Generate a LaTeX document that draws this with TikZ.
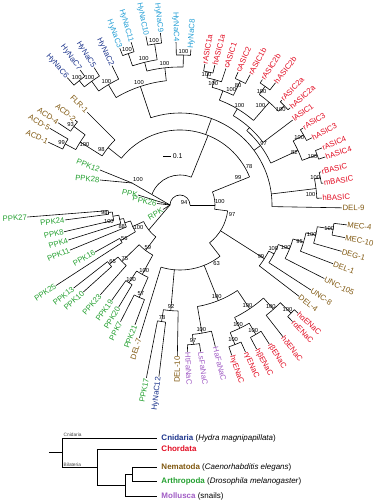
\documentclass[tikz,border=0pt]{standalone}
\usepackage{fontspec}
\setmainfont{Liberation Sans}

\definecolor{cnidark}{RGB}{28,52,140}
\definecolor{cnilight}{RGB}{38,160,214}
\definecolor{chord}{RGB}{226,12,34}
\definecolor{nema}{RGB}{128,88,16}
\definecolor{arth}{RGB}{36,160,48}
\definecolor{moll}{RGB}{160,92,196}

\tikzset{
  branch/.style={line width=0.6pt},
  lbl/.style={font=\fontsize{7.8}{9}\selectfont, inner sep=0.3pt},
  bsl/.style={font=\fontsize{5.8}{6.5}\selectfont, inner sep=0pt},
  legline/.style={line width=1pt},
  leg/.style={font=\fontsize{8}{9}\selectfont, inner sep=0pt},
  cladelbl/.style={font=\fontsize{4.8}{5}\selectfont, text=black!75, inner sep=0.5pt},
}

% arc at radius #1 from angle #2 to #3
\newcommand{\arcr}[3]{\draw[branch] (#2:#1) arc[start angle=#2, end angle=#3, radius=#1];}
% radial line at angle #1 from radius #2 to #3
\newcommand{\radl}[3]{\draw[branch] (#1:#2) -- (#1:#3);}
% leaf: angle, node radius, tip radius, name, text, colour
\newcommand{\leafR}[6]{\draw[branch] (#1:#2) -- (#1:#3) node[lbl, text=#6, rotate=#1, anchor=west] (#4) {#5};}
\newcommand{\leafL}[6]{\draw[branch] (#1:#2) -- (#1:#3) node[lbl, text=#6, rotate=#1+180, anchor=east] (#4) {#5};}
\newcounter{bsn}
\newcommand{\bootv}[3]{\stepcounter{bsn}\node[bsl] (bs\thebsn) at (#1:#2) {#3};}

\begin{document}
\begin{tikzpicture}[x=1bp, y=1bp]
\useasboundingbox (-180,-295) rectangle (199,205);

% centre
\arcr{10}{0}{180}
\bootv{35}{5}{94}
\coordinate (bun) at (180:10);
\coordinate (n1228) at (-48,22);
\draw[branch] (bun) -- (n1228);
\node[bsl] (b1228) at (-42,25) {100};
\draw[branch] (n1228) -- (-80,35) node[lbl, text=arth, rotate=-22, anchor=east] (PPK12) {PPK12};
\draw[branch] (n1228) -- (-80,25) node[lbl, text=arth, rotate=-5, anchor=east] (PPK28) {PPK28};
\draw[branch] (bun) -- (-42,10) node[lbl, text=arth, rotate=-12, anchor=east] (PPK) {PPK};
\draw[branch] (bun) -- (-23,1.5) node[lbl, text=arth, rotate=-12, anchor=east] (PPK26) {PPK26};
\draw[branch] (bun) -- (-17,-4.5) node[lbl, text=arth, rotate=30, anchor=east] (RPK) {RPK};
\arcr{30}{158}{68}
\radl{68}{30}{75}
\draw[branch] (-17,49) -- (-9,49) node[anchor=west, inner sep=1.5pt, font=\fontsize{7}{8}\selectfont] (scale) {0.1};

% upper half
\radl{0}{10}{35}
\bootv{5}{40}{100}
\arcr{35}{-7}{22}
\radl{22}{35}{75}
\bootv{25}{64}{99}
\bootv{29}{79}{78}
\arcr{75}{22}{141.4}

% ACD / FLR
\radl{141.4}{75}{92}
\bootv{145}{96}{98}
\arcr{92}{135}{147.75}
\leafL{135}{92}{131}{FLR1}{FLR-1}{nema}
\radl{147.75}{92}{118}
\bootv{147.75}{113}{100}
\arcr{118}{143.5}{152}
\radl{143.5}{118}{132}
\bootv{143.5}{136}{93}
\arcr{132}{141}{146}
\leafL{141}{132}{135}{ACD2}{ACD-2}{nema}
\leafL{146}{132}{147}{ACD4}{ACD-4}{nema}
\radl{152}{118}{130}
\bootv{152}{134}{99}
\arcr{130}{149.5}{154.5}
\leafL{149.5}{130}{151}{ACD5}{ACD-5}{nema}
\leafL{154.5}{130}{146}{ACD1}{ACD-1}{nema}

% Hydra channels
\radl{70}{75}{92}
\arcr{92}{-1}{108.5}
\radl{108.5}{92}{125}
\bootv{108.5}{129}{100}
\arcr{125}{96.3}{120.75}
\radl{120.75}{125}{140}
\bootv{120.75}{144}{100}
\arcr{140}{116}{125.5}
\leafL{116}{140}{155}{HyNaC2}{HyNaC2}{cnidark}
\radl{125.5}{140}{152}
\bootv{125.5}{156}{100}
\arcr{152}{122}{129}
\leafL{122}{152}{162}{HyNaC5}{HyNaC5}{cnidark}
\radl{129}{152}{160}
\bootv{129}{164}{100}
\arcr{160}{126.5}{131.5}
\leafL{126.5}{160}{168}{HyNaC7}{HyNaC7}{cnidark}
\leafL{131.5}{160}{170}{HyNaC6}{HyNaC6}{cnidark}
\radl{96.3}{125}{138}
\bootv{96.3}{142}{100}
\arcr{138}{88.7}{103.9}
\radl{103.9}{138}{147}
\bootv{103.9}{151}{100}
\arcr{147}{98.95}{108.85}
\radl{108.85}{147}{160}
\bootv{108.85}{164}{100}
\arcr{160}{106.7}{111}
\leafL{111}{160}{168}{HyNaC3}{HyNaC3}{cnilight}
\leafL{106.7}{160}{170}{HyNaC11}{HyNaC11}{cnilight}
\radl{98.95}{147}{163}
\bootv{98.95}{167}{100}
\arcr{163}{96.5}{101.4}
\leafL{101.4}{163}{172}{HyNaC10}{HyNaC10}{cnilight}
\leafL{96.5}{163}{173}{HyNaC9}{HyNaC9}{cnilight}
\radl{88.7}{138}{150}
\bootv{88.7}{154}{100}
\arcr{150}{86}{91.4}
\leafL{91.4}{150}{163}{HyNaC4}{HyNaC4}{cnilight}
\leafR{86}{150}{156}{HyNaC8}{HyNaC8}{cnilight}

% ASIC
\radl{36.45}{92}{100}
\bootv{36.45}{104}{97}
\arcr{100}{24.8}{48.1}
\radl{48.1}{100}{104}
\arcr{104}{37}{59.2}
\leafR{37}{104}{141}{lASIC1}{lASIC1}{chord}
\radl{59.2}{104}{112}
\bootv{59.2}{116}{100}
\arcr{112}{49}{69.4}
\radl{69.4}{112}{122}
\bootv{66}{126}{100}
\arcr{122}{64.05}{74.7}
\radl{74.7}{122}{130}
\bootv{74.7}{126}{100}
\arcr{130}{71.4}{78}
\leafR{71.4}{130}{144}{cASIC1}{cASIC1}{chord}
\radl{78}{130}{136}
\bootv{78.5}{133}{100}
\arcr{136}{76}{80}
\leafR{80}{136}{143}{rASIC1a}{rASIC1a}{chord}
\leafR{76}{136}{144}{hASIC1a}{hASIC1a}{chord}
\radl{64.05}{122}{138}
\bootv{64.05}{133}{80}
\arcr{138}{61.7}{66.4}
\leafR{66.4}{138}{145}{cASIC2}{cASIC2}{chord}
\leafR{61.7}{138}{148}{rASIC1b}{rASIC1b}{chord}
\radl{49}{112}{136}
\bootv{51}{128}{100}
\arcr{136}{43.6}{54.35}
\radl{54.35}{136}{146}
\bootv{54.35}{140}{100}
\arcr{146}{52}{56.7}
\leafR{56.7}{146}{150}{rASIC2b}{rASIC2b}{chord}
\leafR{52}{146}{155}{hASIC2b}{hASIC2b}{chord}
\radl{43.6}{136}{144}
\bootv{43.6}{139}{100}
\arcr{144}{41.4}{45.8}
\leafR{45.8}{144}{146}{rASIC2a}{rASIC2a}{chord}
\leafR{41.4}{144}{147}{hASIC2a}{hASIC2a}{chord}
\radl{24.8}{100}{130}
\bootv{24.8}{126}{82}
\arcr{130}{20.1}{29.5}
\radl{29.5}{130}{142}
\bootv{29.5}{137}{100}
\arcr{142}{27}{32}
\leafR{32}{142}{145}{rASIC3}{rASIC3}{chord}
\leafR{27}{142}{148}{hASIC3}{hASIC3}{chord}
\radl{20.1}{130}{146}
\bootv{20.1}{141}{100}
\arcr{146}{18.3}{21.9}
\leafR{21.9}{146}{153}{rASIC4}{rASIC4}{chord}
\leafR{18.3}{146}{153}{hASIC4}{hASIC4}{chord}

% BASIC, DEL-9
\radl{6.9}{92}{137}
\bootv{4.5}{131}{100}
\arcr{137}{2.8}{10.95}
\leafR{2.8}{137}{142}{hBASIC}{hBASIC}{chord}
\radl{10.95}{137}{143}
\bootv{11.5}{138}{100}
\arcr{143}{8.7}{13.2}
\leafR{13.2}{143}{145}{rBASIC}{rBASIC}{chord}
\leafR{8.7}{143}{145}{mBASIC}{mBASIC}{chord}
\leafR{-1}{92}{162}{DEL9}{DEL-9}{nema}

% lower half
\radl{-7}{35}{48}
\bootv{-10}{53}{97}
\arcr{48}{-52}{-7}

% nematode channels
\radl{-32.5}{48}{100}
\bootv{-32.5}{96}{99}
\arcr{100}{-37.5}{-27.45}
\leafR{-37.5}{100}{150}{DEL4}{DEL-4}{nema}
\radl{-27.45}{100}{106}
\bootv{-25}{103}{100}
\arcr{106}{-33}{-21.9}
\leafR{-33}{106}{156}{UNC8}{UNC-8}{nema}
\radl{-21.9}{106}{118}
\bootv{-21.9}{114}{100}
\arcr{118}{-27}{-16.75}
\leafR{-27}{118}{162}{UNC105}{UNC-105}{nema}
\radl{-16.75}{118}{129}
\bootv{-16.75}{125}{95}
\arcr{129}{-21}{-12.5}
\leafR{-21}{129}{164}{DEL1}{DEL-1}{nema}
\radl{-12.5}{129}{139}
\bootv{-12.5}{135}{100}
\arcr{139}{-16}{-9}
\leafR{-16}{139}{168}{DEG1}{DEG-1}{nema}
\radl{-9}{139}{155}
\bootv{-9}{151}{100}
\arcr{155}{-11.2}{-6.8}
\leafR{-6.8}{155}{168}{MEC4}{MEC-4}{nema}
\leafR{-11.2}{155}{168}{MEC10}{MEC-10}{nema}

% ENaC and FaNaC
\radl{-52}{48}{65}
\arcr{65}{-107}{-52}
\bootv{-58}{69}{63}
\radl{-68.2}{65}{103}
\bootv{-68.2}{99}{100}
\arcr{103}{-80.25}{-56.1}
\radl{-56.1}{103}{125}
\bootv{-56.1}{121}{100}
\arcr{125}{-64.1}{-48.1}
\radl{-48.1}{125}{140}
\bootv{-48.1}{136}{100}
\arcr{140}{-52}{-44.25}
\leafR{-52}{140}{167}{E3}{hδENaC}{chord}
\radl{-44.25}{140}{155}
\bootv{-44.25}{150}{100}
\arcr{155}{-46}{-42.5}
\leafR{-42.5}{155}{160}{E1}{hαENaC}{chord}
\leafR{-46}{155}{162}{E2}{rαENaC}{chord}
\radl{-64.1}{125}{137}
\bootv{-64.1}{133}{100}
\arcr{137}{-68.5}{-59.65}
\radl{-59.65}{137}{150}
\bootv{-59.65}{145}{100}
\arcr{150}{-62}{-57.3}
\leafR{-57.3}{150}{165}{E4}{rβENaC}{chord}
\leafR{-62}{150}{163}{E5}{hβENaC}{chord}
\radl{-68.5}{137}{150}
\bootv{-68.5}{145}{100}
\arcr{150}{-71}{-66}
\leafR{-66}{150}{161}{E6}{rγENaC}{chord}
\leafR{-71}{150}{159}{E7}{hγENaC}{chord}
\radl{-80.25}{103}{130}
\bootv{-80.25}{126}{100}
\arcr{130}{-84.5}{-76}
\leafR{-76}{130}{146}{HaFaNaC}{HaFaNaC}{moll}
\radl{-84.5}{130}{140}
\bootv{-84.5}{136}{97}
\arcr{140}{-87}{-82}
\leafR{-82}{140}{148}{LsFaNaC}{LsFaNaC}{moll}
\leafR{-87}{140}{147}{HtFaNaC}{HtFaNaC}{moll}

% DEL-10, HyNaC12, PPK17, DEL-7
\radl{-95}{65}{106}
\bootv{-95}{102}{92}
\arcr{106}{-99}{-91}
\leafL{-91}{106}{151}{DEL10}{DEL-10}{nema}
\radl{-99}{106}{118}
\bootv{-99}{114}{78}
\arcr{118}{-101}{-97}
\leafL{-97}{118}{173}{HyNaC12}{HyNaC12}{cnidark}
\leafL{-101}{118}{176}{PPK17}{PPK17}{arth}
\leafL{-107}{65}{139}{DEL7}{DEL-7}{nema}

% Drosophila PPK group
\draw[branch] (bun) -- (-141.4:40);
\arcr{40}{-155.55}{-127.2}
\radl{-127.2}{40}{57}
\bootv{-127.2}{53}{59}
\arcr{57}{-135.8}{-118.55}
\radl{-118.55}{57}{79}
\bootv{-118.55}{75}{100}
\arcr{79}{-123.3}{-113.8}
\radl{-113.8}{79}{101}
\bootv{-113.8}{97}{57}
\arcr{101}{-117}{-110.6}
\leafL{-110.6}{101}{128}{PPK21}{PPK21}{arth}
\leafL{-117}{101}{131}{PPK7}{PPK7}{arth}
\radl{-123.3}{79}{93}
\bootv{-123.3}{89}{100}
\arcr{93}{-125.6}{-121}
\leafL{-121}{93}{119}{PPK20}{PPK20}{arth}
\leafL{-125.6}{93}{117}{PPK19}{PPK19}{arth}
\radl{-135.8}{57}{81}
\bootv{-135.8}{77}{75}
\arcr{81}{-140}{-131.6}
\leafL{-131.6}{81}{120}{PPK23}{PPK23}{arth}
\radl{-140}{81}{92}
\bootv{-140}{88}{65}
\arcr{92}{-142}{-138}
\leafL{-138}{92}{130}{PPK10}{PPK10}{arth}
\leafL{-142}{92}{135}{PPK13}{PPK13}{arth}
\radl{-155.55}{40}{52}
\bootv{-152}{47}{100}
\arcr{52}{-162.1}{-149}
\radl{-149}{52}{69}
\bootv{-149}{65}{56}
\arcr{69}{-151}{-147}
\leafL{-147}{69}{148}{PPK25}{PPK25}{arth}
\leafL{-151}{69}{97}{PPK16}{PPK16}{arth}
\radl{-162.1}{52}{58}
\bootv{-160}{62}{88}
\arcr{58}{-166.55}{-157.7}
\leafL{-157.7}{58}{119}{PPK11}{PPK11}{arth}
\radl{-166.55}{58}{62}
\arcr{62}{-170.5}{-162.6}
\leafL{-162.6}{62}{117}{PPK4}{PPK4}{arth}
\radl{-170.5}{62}{68}
\bootv{-167}{73}{100}
\arcr{68}{-174.05}{-167}
\leafL{-167}{68}{119}{PPK8}{PPK8}{arth}
\radl{-174.05}{68}{72}
\bootv{-174.05}{76}{98}
\arcr{72}{-175.5}{-172.6}
\leafL{-172.6}{72}{116}{PPK24}{PPK24}{arth}
\leafL{-175.5}{72}{153}{PPK27}{PPK27}{arth}

% legend tree
\coordinate (lroot) at (-118,-247.5);
\coordinate (lbil) at (-83,-262.5);
\coordinate (lpro) at (-55,-280);
\coordinate (lna) at (-48,-269);
\draw[legline, line width=1.8pt] (-131,-247.5) -- (lroot);
\draw[legline] (-118,-233) -- (-118,-262.5);
\draw[legline] (-118,-233) -- (-23,-233) node[leg, anchor=west, xshift=4bp] (lcni) {\textcolor{cnidark}{\bfseries Cnidaria} (\textit{Hydra magnipapillata})};
\draw[legline] (-118,-262.5) -- (lbil);
\draw[legline] (-83,-244) -- (-83,-281);
\draw[legline] (-83,-244) -- (-23,-244) node[leg, anchor=west, xshift=4bp] (lcho) {\textcolor{chord}{\bfseries Chordata}};
\draw[legline] (-83,-280) -- (lpro);
\draw[legline] (-55,-269) -- (-55,-291);
\draw[legline] (-55,-269) -- (lna);
\draw[legline] (-48,-262) -- (-48,-276);
\draw[legline] (-48,-262) -- (-23,-262) node[leg, anchor=west, xshift=4bp] (lnem) {\textcolor{nema}{\bfseries Nematoda} (\textit{Caenorhabditis elegans})};
\draw[legline] (-48,-276) -- (-23,-276) node[leg, anchor=west, xshift=4bp] (lart) {\textcolor{arth}{\bfseries Arthropoda} (\textit{Drosophila melanogaster})};
\draw[legline] (-55,-291) -- (-23,-291) node[leg, anchor=west, xshift=4bp] (lmol) {\textcolor{moll}{\bfseries Mollusca} (snails)};
\node[cladelbl, anchor=south west] (tcni) at (-117,-232.5) {Cnidaria};
\node[cladelbl, anchor=south west] (tbil) at (-117,-262) {Bilateria};
\end{tikzpicture}
\end{document}
